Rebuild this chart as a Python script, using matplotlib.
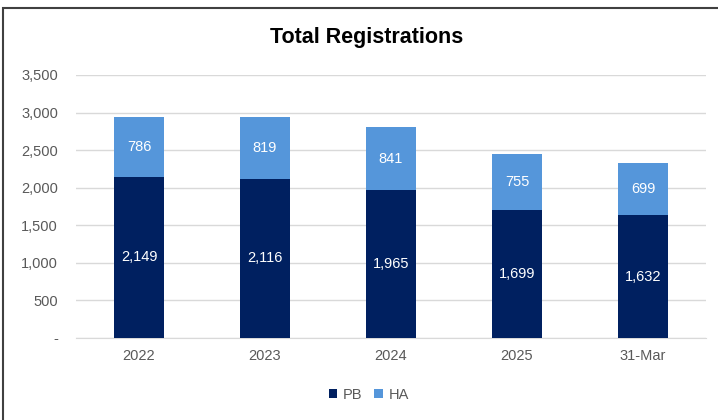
import matplotlib.pyplot as plt
from matplotlib.patches import Rectangle

categories = ["2022", "2023", "2024", "2025", "31-Mar"]
pb = [2149, 2116, 1965, 1699, 1632]
ha = [786, 819, 841, 755, 699]
yticks = [0, 500, 1000, 1500, 2000, 2500, 3000, 3500]
ytick_labels = ["-", "500", "1,000", "1,500", "2,000", "2,500", "3,000", "3,500"]

navy = "#002060"
light = "#5596DA"
grey = "#595959"

plt.rcParams['font.family'] = ['Liberation Sans', 'DejaVu Sans']

fig = plt.figure(figsize=(7.18, 4.2), dpi=100)
ax = fig.add_axes([76 / 718, 1 - 338 / 420, 630 / 718, 263 / 420])

x = range(len(categories))
bars_pb = ax.bar(x, pb, width=0.4, color=navy, label="PB", zorder=3)
bars_ha = ax.bar(x, ha, width=0.4, bottom=pb, color=light, label="HA", zorder=3)

# white value labels in the middle of each segment
for i in x:
    ax.text(i, pb[i] / 2, f"{pb[i]:,}", ha="center", va="center",
            color="white", fontsize=10.5, zorder=4)
    ax.text(i, pb[i] + ha[i] / 2, f"{ha[i]:,}", ha="center", va="center",
            color="white", fontsize=10.5, zorder=4)

ax.set_xlim(-0.5, len(categories) - 0.5)
ax.set_ylim(0, 3500)
ax.set_yticks(yticks)
ax.set_yticklabels(ytick_labels)
ax.set_xticks(list(x))
ax.set_xticklabels(categories)
ax.tick_params(axis="both", length=0, colors=grey, labelsize=10.5)
ax.tick_params(axis="y", pad=13)
ax.tick_params(axis="x", pad=8)
ax.grid(axis="y", color="#D9D9D9", lw=1, zorder=0)
for s in ["top", "right", "left"]:
    ax.spines[s].set_visible(False)
ax.spines["bottom"].set_color("#D9D9D9")

fig.text(0.5 + 8 / 718, 1 - 38 / 420, "Total Registrations", ha="center",
         va="center", fontsize=15.5, fontweight="bold",
         family=["Liberation Sans Narrow", "Liberation Sans", "DejaVu Sans"])

fig.legend(handles=[bars_pb, bars_ha], labels=["PB", "HA"], loc="center",
           bbox_to_anchor=(0.5 + 10 / 718, 1 - 395 / 420), ncol=2, frameon=False,
           fontsize=10.5, handlelength=0.6, handleheight=0.6,
           handletextpad=0.4, columnspacing=0.8, labelcolor=grey)

# outer chart border (left and top visible)
fig.patches.append(Rectangle((3 / 718, -0.01), 1.0, 1 - 8 / 420 + 0.01,
                             transform=fig.transFigure, fill=False,
                             edgecolor="#404040", lw=1.5))

fig.savefig("out.png", dpi=100)
